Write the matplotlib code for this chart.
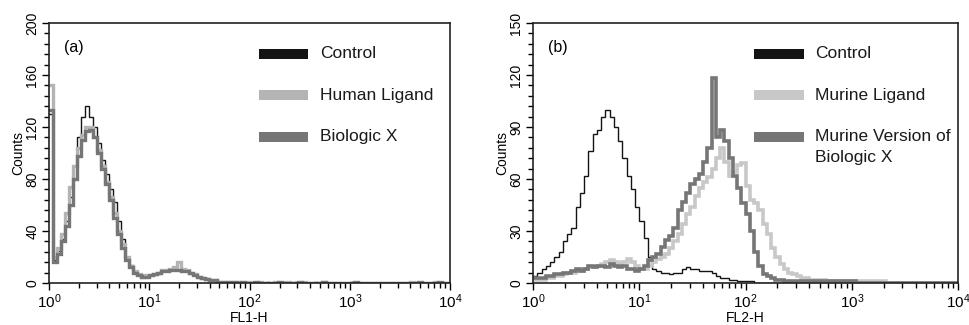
import numpy as np
import matplotlib

matplotlib.use("Agg")
import matplotlib.pyplot as plt
from matplotlib.patches import Rectangle
from matplotlib.ticker import LogLocator, MultipleLocator

plt.rcParams["font.family"] = ["Liberation Sans", "DejaVu Sans"]

# histogram channels: 25 bins per decade over 10^0 .. 10^4
n_bins = 100

# panel (a), FL1-H
a_control = [130, 18, 25, 34, 48, 66, 90, 112, 128, 136,
             128, 120, 108, 95, 84, 72, 62, 48, 34, 20,
             14, 9, 7, 6, 6, 6, 7, 8, 9, 10,
             10, 11, 10, 9, 9, 8, 6, 5, 4, 3,
             2, 2, 1, 1, 1, 0, 1, 0, 0, 1,
             0, 0, 0, 0, 1, 0, 0, 0, 1, 0,
             0, 1, 0, 0, 0, 0, 1, 0, 0, 0,
             0, 0, 0, 0, 0, 1, 0, 0, 0, 0,
             0, 0, 0, 0, 0, 0, 0, 0, 0, 0,
             0, 0, 0, 0, 0, 0, 0, 0, 0, 0]
a_human = [152, 20, 27, 38, 54, 74, 90, 104, 114, 120,
           120, 112, 102, 90, 78, 66, 54, 40, 30, 20,
           13, 9, 7, 5, 6, 6, 7, 8, 10, 10,
           11, 12, 16, 11, 10, 8, 7, 5, 4, 3,
           2, 2, 1, 1, 1, 1, 0, 1, 0, 1,
           0, 0, 1, 0, 0, 0, 1, 0, 0, 1,
           0, 0, 0, 1, 0, 0, 0, 0, 1, 0,
           0, 0, 0, 0, 0, 0, 0, 0, 0, 0,
           0, 0, 0, 0, 0, 0, 0, 0, 0, 0,
           1, 0, 0, 0, 0, 0, 1, 0, 0, 0]
a_biologic = [133, 16, 22, 32, 44, 60, 80, 98, 110, 117,
              118, 112, 100, 88, 76, 64, 50, 38, 27, 18,
              12, 8, 6, 5, 5, 6, 7, 8, 9, 9,
              10, 10, 10, 9, 9, 8, 6, 5, 4, 3,
              2, 2, 1, 1, 1, 1, 1, 0, 1, 0,
              0, 1, 0, 0, 0, 0, 0, 1, 0, 0,
              0, 0, 1, 0, 0, 0, 0, 0, 1, 0,
              0, 0, 0, 0, 0, 0, 1, 0, 0, 0,
              0, 0, 0, 0, 0, 0, 0, 0, 0, 0,
              0, 0, 1, 0, 0, 0, 0, 1, 0, 0]

# panel (b), FL2-H
b_control = [4, 6, 8, 10, 12, 15, 18, 24, 28, 32,
             44, 52, 62, 76, 86, 88, 96, 100, 96, 90,
             82, 72, 62, 54, 44, 36, 26, 15, 8, 7,
             6, 6, 5, 6, 6, 8, 9, 8, 8, 7,
             7, 7, 6, 4, 3, 3, 2, 2, 1, 1,
             1, 1, 0, 0, 0, 0, 0, 0, 0, 0,
             0, 0, 0, 0, 0, 0, 0, 0, 0, 0,
             0, 0, 0, 0, 0, 0, 0, 0, 0, 0,
             0, 0, 0, 0, 0, 0, 0, 0, 0, 0,
             0, 0, 0, 0, 0, 0, 0, 0, 0, 0]
b_murine = [2, 2, 2, 3, 3, 4, 4, 5, 6, 6,
            7, 7, 8, 9, 9, 10, 11, 12, 13, 12,
            11, 12, 14, 12, 10, 8, 8, 10, 12, 14,
            15, 17, 20, 24, 28, 34, 40, 44, 50, 55,
            58, 61, 66, 72, 78, 70, 62, 64, 68, 69,
            56, 48, 46, 42, 34, 28, 20, 15, 11, 8,
            6, 5, 4, 3, 3, 2, 2, 2, 2, 1,
            1, 1, 1, 1, 1, 1, 1, 1, 1, 1,
            1, 1, 1, 0, 0, 0, 0, 0, 0, 0,
            0, 0, 0, 0, 0, 0, 0, 0, 0, 0]
b_version = [3, 3, 3, 4, 4, 5, 5, 6, 6, 7,
             8, 7, 8, 10, 9, 10, 10, 9, 11, 10,
             9, 10, 8, 8, 7, 8, 10, 13, 15, 17,
             21, 25, 27, 32, 42, 47, 52, 57, 60, 63,
             70, 78, 118, 84, 88, 82, 72, 62, 55, 46,
             40, 30, 18, 10, 5, 4, 3, 2, 2, 1,
             1, 1, 1, 1, 1, 1, 1, 1, 1, 1,
             1, 1, 1, 1, 1, 1, 0, 0, 0, 0,
             0, 0, 0, 0, 0, 0, 0, 0, 0, 0,
             0, 0, 0, 0, 0, 0, 0, 0, 0, 0]

a_labels = ["Control", "Human Ligand", "Biologic X"]
b_labels = ["Control", "Murine Ligand", "Murine Version of\nBiologic X"]

edges = np.logspace(0, 4, n_bins + 1)

BLACK = "#141414"
LIGHT_A = "#b4b4b4"
LIGHT_B = "#c8c8c8"
DARK = "#767676"
TEXT = "#1a1a1a"


def draw_hist(ax, counts, color, lw):
    vals = np.append(counts, counts[-1])
    ax.step(edges, vals, where="post", color=color, lw=lw, solid_joinstyle="miter")


def style_axes(ax, ymax, ystep, xlabel):
    ax.set_xscale("log")
    ax.set_xlim(1, 1e4)
    ax.set_ylim(0, ymax)
    ax.yaxis.set_major_locator(MultipleLocator(ystep))
    ax.yaxis.set_minor_locator(MultipleLocator(ystep / 5))
    ax.xaxis.set_major_locator(LogLocator(base=10, numticks=10))
    ax.xaxis.set_minor_locator(LogLocator(base=10, subs=np.arange(2, 10), numticks=10))
    ax.tick_params(axis="x", which="major", length=5, width=1, labelsize=11, pad=1.5)
    ax.tick_params(axis="x", which="minor", length=3.5, width=1)
    ax.tick_params(axis="y", which="major", length=5, width=1, labelsize=10, pad=2)
    ax.tick_params(axis="y", which="minor", length=3.5, width=1)
    for lab in ax.get_yticklabels():
        lab.set_rotation(90)
        lab.set_va("center")
    for sp in ax.spines.values():
        sp.set_linewidth(1.2)
        sp.set_color("#222222")
    ax.set_ylabel("Counts", fontsize=10, labelpad=0)
    ax.set_xlabel(xlabel, fontsize=10, labelpad=0)


def draw_key(ax, labels, colors, ys, x0, w, tx):
    for lab, col, y in zip(labels, colors, ys):
        ax.add_patch(Rectangle((x0, y - 0.019), w, 0.038, transform=ax.transAxes,
                               color=col, lw=0, clip_on=False))
        ax.text(tx, y, lab.split("\n")[0], transform=ax.transAxes, fontsize=12.5,
                va="center", ha="left", color=TEXT)
        if "\n" in lab:
            ax.text(tx, y - 0.078, lab.split("\n")[1], transform=ax.transAxes,
                    fontsize=12.5, va="center", ha="left", color=TEXT)


fig = plt.figure(figsize=(9.69, 3.25), dpi=100)
ax_a = fig.add_axes([49 / 969, 42 / 325, 401 / 969, 260 / 325])
ax_b = fig.add_axes([533 / 969, 42 / 325, 425 / 969, 260 / 325])

draw_hist(ax_a, a_control, BLACK, 1.0)
draw_hist(ax_a, a_human, LIGHT_A, 2.4)
draw_hist(ax_a, a_biologic, DARK, 2.4)
style_axes(ax_a, 200, 40, "FL1-H")
ax_a.text(0.037, 0.905, "(a)", transform=ax_a.transAxes, fontsize=11.5, va="center")
draw_key(ax_a, a_labels, [BLACK, LIGHT_A, DARK], [0.881, 0.723, 0.562], 0.523, 0.122, 0.675)

draw_hist(ax_b, b_control, BLACK, 1.0)
draw_hist(ax_b, b_murine, LIGHT_B, 2.6)
draw_hist(ax_b, b_version, DARK, 2.6)
style_axes(ax_b, 150, 30, "FL2-H")
ax_b.text(0.035, 0.905, "(b)", transform=ax_b.transAxes, fontsize=11.5, va="center")
draw_key(ax_b, b_labels, [BLACK, LIGHT_B, DARK], [0.881, 0.723, 0.562], 0.52, 0.118, 0.664)

fig.savefig("out.png", dpi=100, facecolor="white")
